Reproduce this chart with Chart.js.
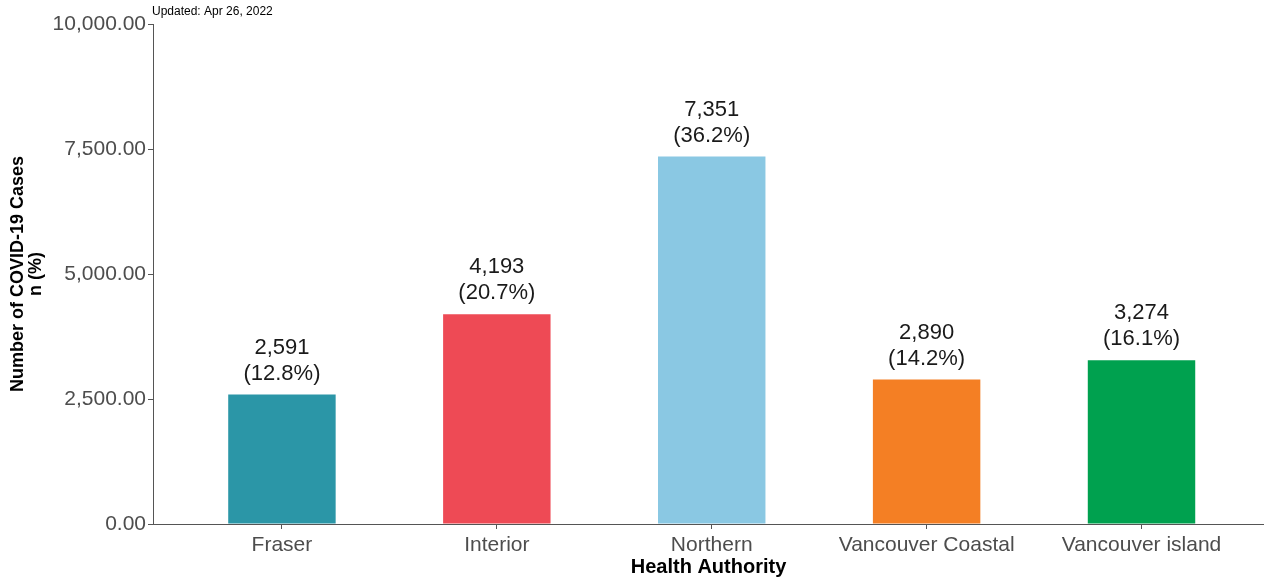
<!DOCTYPE html>
<html>
<head>
<meta charset="utf-8">
<script src="https://cdn.jsdelivr.net/npm/chart.js@4"></script>
<style>
  body { margin: 0; background: #fff; }
  #wrap { width: 1264px; height: 584px; position: relative; }
</style>
</head>
<body>
<div id="wrap"><canvas id="myChart"></canvas></div>
<script>
const categories = ['Fraser', 'Interior', 'Northern', 'Vancouver Coastal', 'Vancouver island'];
const cases = [2591, 4193, 7351, 2890, 3274];
const percents = [12.8, 20.7, 36.2, 14.2, 16.1];
const yTicks = [0, 2500, 5000, 7500, 10000];
const barColors = ['#2b96a7', '#ee4a55', '#8ac8e3', '#f47f24', '#00a14f'];

const FONT = "'Liberation Sans', Arial, sans-serif";

// labels above bars + the "Updated" note
const barLabels = {
    id: 'barLabels',
    afterDatasetsDraw(chart) {
        const ctx = chart.ctx;
        const meta = chart.getDatasetMeta(0);
        ctx.save();
        ctx.fillStyle = '#1a1a1a';
        ctx.font = '22px ' + FONT;
        ctx.textAlign = 'center';
        ctx.textBaseline = 'middle';
        meta.data.forEach((bar, i) => {
            ctx.fillText(cases[i].toLocaleString('en-US'), bar.x, bar.y - 47);
            ctx.fillText('(' + percents[i].toFixed(1) + '%)', bar.x, bar.y - 21);
        });
        ctx.font = '12px ' + FONT;
        ctx.textAlign = 'left';
        ctx.fillStyle = '#000';
        ctx.fillText('Updated: Apr 26, 2022', chart.chartArea.left - 1, 12);
        ctx.restore();
    }
};

new Chart(document.getElementById('myChart'), {
    type: 'bar',
    data: {
        datasets: [{
            data: cases.map((v, i) => ({ x: i, y: v })),
            backgroundColor: barColors,
            borderWidth: 0,
            barPercentage: 0.5,
            categoryPercentage: 1
        }]
    },
    options: {
        responsive: true,
        maintainAspectRatio: false,
        animation: false,
        layout: { padding: { top: 24, left: 0, right: 0, bottom: 0 } },
        plugins: {
            legend: { display: false },
            tooltip: { enabled: false }
        },
        scales: {
            x: {
                type: 'linear',
                min: -0.6,
                max: 4.57,
                offset: false,
                afterBuildTicks: (scale) => {
                    scale.ticks = categories.map((c, i) => ({ value: i }));
                },
                afterFit: (scale) => { scale.height = 60; },
                grid: { display: true, drawOnChartArea: false, offset: false, tickLength: 5, color: '#555' },
                border: { display: true, color: '#555', width: 1 },
                ticks: {
                    autoSkip: false,
                    maxRotation: 0,
                    padding: 4,
                    color: '#4d4d4d',
                    font: { family: FONT, size: 21 },
                    callback: (v) => categories[v]
                },
                title: {
                    display: true,
                    text: 'Health Authority',
                    color: '#000',
                    font: { family: FONT, size: 20, weight: 'bold' },
                    padding: { top: 0, bottom: 5 }
                }
            },
            y: {
                min: 0,
                max: 10000,
                afterBuildTicks: (scale) => {
                    scale.ticks = yTicks.map(v => ({ value: v }));
                },
                afterFit: (scale) => { scale.width = 153; },
                grid: { display: true, drawOnChartArea: false, tickLength: 5, color: '#555' },
                border: { display: true, color: '#555', width: 1 },
                ticks: {
                    padding: 2,
                    color: '#4d4d4d',
                    font: { family: FONT, size: 21 },
                    callback: (v) => v.toLocaleString('en-US', { minimumFractionDigits: 2, maximumFractionDigits: 2 })
                },
                title: {
                    display: true,
                    text: ['Number of COVID-19 Cases', 'n (%)'],
                    color: '#000',
                    font: { family: FONT, size: 18, weight: 'bold', lineHeight: 1 },
                    padding: { top: 9, bottom: 0 }
                }
            }
        }
    },
    plugins: [barLabels]
});
</script>
</body>
</html>
